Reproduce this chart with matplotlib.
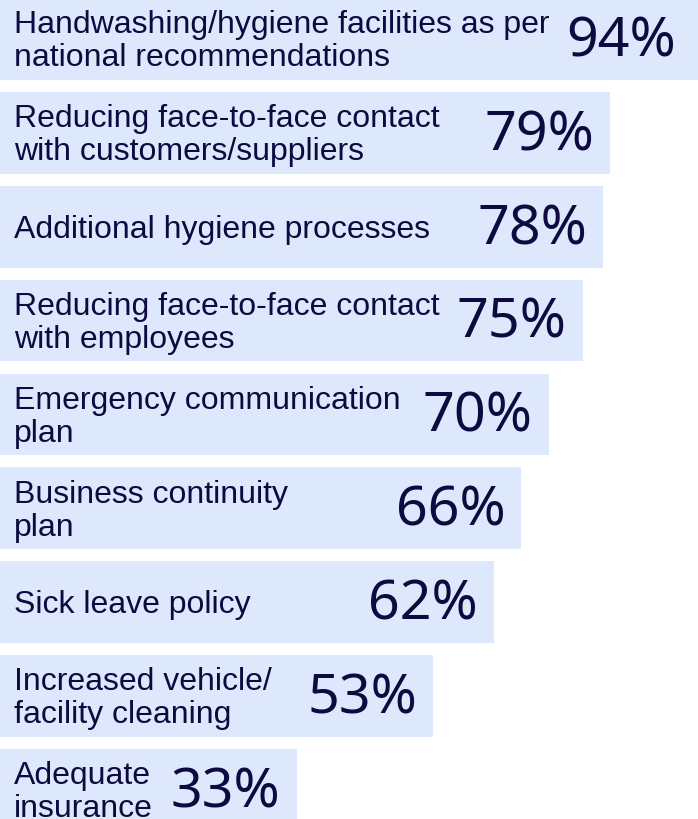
import matplotlib.pyplot as plt

# Survey data
labels = [
    'Handwashing/hygiene facilities as per\nnational recommendations',
    'Reducing face-to-face contact\nwith customers/suppliers',
    'Additional hygiene processes',
    'Reducing face-to-face contact\nwith employees',
    'Emergency communication\nplan',
    'Business continuity\nplan',
    'Sick leave policy',
    'Increased vehicle/\nfacility cleaning',
    'Adequate\ninsurance',
]
values = [94, 79, 78, 75, 70, 66, 62, 53, 33]

bar_color = '#dde8fc'
text_color = '#0d0a40'

# bars start a bit left of zero so the short ones still hold their label
px_per_unit = 6.81
offset = 72 / px_per_unit

fig = plt.figure(figsize=(6.98, 8.2), dpi=100)
ax = fig.add_axes([0, 0, 1, 1])

rows = range(len(values))
ax.barh(rows, [v + offset for v in values], left=-offset, height=0.87,
        color=bar_color, edgecolor='none')

for i, (lab, v) in enumerate(zip(labels, values)):
    ax.text(-offset + 14 / px_per_unit, i + 0.02, lab, ha='left', va='center',
            fontsize=23, family='Liberation Sans', color=text_color,
            linespacing=1.13)
    x_pct = min(v, 94 - 20 / px_per_unit) - 16 / px_per_unit
    ax.text(x_pct, i + 0.02, f'{v}%', ha='right', va='center',
            fontsize=40, family='Noto Sans', color=text_color)

ax.set_xlim(-offset, -offset + 698 / px_per_unit)
ax.set_ylim(8.31, -0.426)
ax.axis('off')

fig.savefig('out.png', dpi=100)
